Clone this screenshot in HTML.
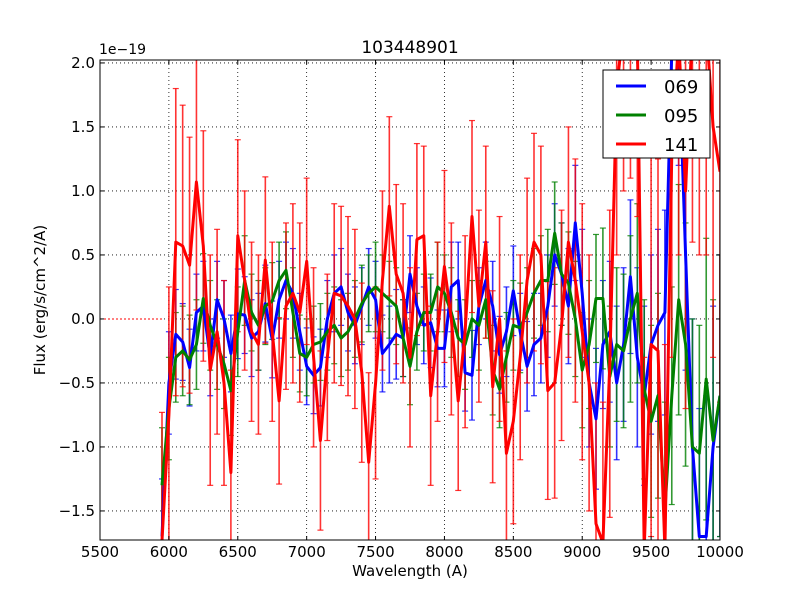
<!DOCTYPE html>
<html><head><meta charset="utf-8"><style>
html,body{margin:0;padding:0;background:#fff;overflow:hidden;width:800px;height:600px;}
svg{display:block;overflow:hidden;}
svg text{font-family:"DejaVu Sans","Liberation Sans",sans-serif;}
</style></head><body>
<svg id="chart" width="800" height="600" xmlns="http://www.w3.org/2000/svg">
<rect x="0" y="0" width="800" height="600" fill="#fff"/>
<defs><clipPath id="clip"><rect x="100" y="60" width="620" height="480"/></clipPath></defs>
<g id="grid"></g>
<g id="series" clip-path="url(#clip)"></g>
<rect x="100" y="60" width="620" height="480" fill="none" stroke="#000" stroke-width="1"/>
<g id="ticks"></g>
<text x="410" y="53" font-size="17" text-anchor="middle">103448901</text>
<text x="99" y="54" font-size="14">1e−19</text>
<text x="410" y="576" font-size="15" text-anchor="middle">Wavelength (A)</text>
<text x="45" y="300" font-size="15" text-anchor="middle" transform="rotate(-90 45 300)">Flux (erg/s/cm^2/A)</text>
<g>
<rect x="603" y="70" width="107" height="88" fill="#fff" stroke="#000"/>
<g><line x1="616" y1="86" x2="646" y2="86" stroke="#0000ff" stroke-width="3"/><text x="664" y="93" font-size="18">069</text></g>
<g><line x1="616" y1="115" x2="646" y2="115" stroke="#008000" stroke-width="3"/><text x="664" y="122" font-size="18">095</text></g>
<g><line x1="616" y1="144" x2="646" y2="144" stroke="#ff0000" stroke-width="3"/><text x="664" y="151" font-size="18">141</text></g>
</g>
</svg>
<script>
const wavelengths=[5950,6000,6050,6100,6150,6200,6250,6300,6350,6400,6450,6500,6550,6600,6650,6700,6750,6800,6850,6900,6950,7000,7050,7100,7150,7200,7250,7300,7350,7400,7450,7500,7550,7600,7650,7700,7750,7800,7850,7900,7950,8000,8050,8100,8150,8200,8250,8300,8350,8400,8450,8500,8550,8600,8650,8700,8750,8800,8850,8900,8950,9000,9050,9100,9150,9200,9250,9300,9350,9400,9450,9500,9550,9600,9650,9700,9750,9800,9850,9900,9950,10000];
const flux069=[-1.7,-0.5,-0.12,-0.18,-0.38,0.05,0.1,-0.3,0.15,0.0,-0.27,0.04,0.03,-0.15,-0.1,0.12,-0.16,0.15,0.3,0.2,-0.1,-0.37,-0.44,-0.38,0.0,0.2,0.25,0.05,-0.05,0.1,0.25,0.15,-0.27,-0.2,-0.12,-0.15,0.35,0.1,-0.05,-0.03,-0.23,-0.23,0.25,0.3,-0.42,-0.44,0.1,0.3,0.1,-0.28,-0.1,0.22,-0.1,-0.37,-0.2,-0.15,0.1,0.5,0.35,0.1,0.75,0.2,-0.5,-0.78,-0.2,-0.1,-0.5,-0.2,0.33,-0.3,-0.6,-0.2,-0.05,0.05,2.1,2.1,0.5,-1.0,-1.7,-1.7,-1.0,-0.6];
const err069=[0.45,0.4,0.35,0.3,0.3,0.3,0.35,0.3,0.3,0.3,0.3,0.35,0.3,0.3,0.3,0.3,0.3,0.3,0.3,0.35,0.3,0.3,0.3,0.3,0.3,0.3,0.3,0.3,0.3,0.3,0.3,0.3,0.3,0.3,0.35,0.3,0.3,0.3,0.3,0.35,0.3,0.3,0.35,0.3,0.3,0.35,0.3,0.3,0.35,0.3,0.35,0.35,0.3,0.35,0.4,0.35,0.4,0.4,0.4,0.45,0.45,0.5,0.5,0.55,0.5,0.55,0.6,0.6,0.6,0.7,0.7,0.7,0.75,0.8,0.8,0.9,0.9,1.0,1.0,1.1,1.1,1.1];
const flux095=[-1.3,-0.7,-0.3,-0.25,-0.32,-0.2,0.16,-0.05,-0.2,-0.35,-0.56,-0.1,0.3,0.05,-0.05,0.1,0.14,0.3,0.38,0.05,-0.27,-0.3,-0.2,-0.18,-0.1,-0.05,-0.15,-0.1,0.0,0.12,0.2,0.25,0.2,0.15,0.1,-0.15,-0.37,-0.1,0.05,0.05,0.25,0.2,0.05,-0.15,-0.2,0.0,-0.05,0.15,-0.4,-0.55,-0.3,-0.05,-0.07,0.05,0.2,0.3,0.3,0.67,0.35,0.28,0.0,-0.4,-0.2,0.16,0.16,-0.45,-0.2,-0.25,0.0,0.2,-0.55,-0.8,-0.6,-1.5,-0.6,0.15,-0.2,-1.0,-1.05,-0.47,-0.95,-0.6];
const err095=[0.45,0.4,0.35,0.35,0.35,0.35,0.35,0.35,0.35,0.35,0.35,0.35,0.35,0.3,0.35,0.3,0.3,0.3,0.3,0.35,0.3,0.3,0.3,0.3,0.3,0.3,0.3,0.3,0.3,0.3,0.3,0.35,0.3,0.3,0.3,0.3,0.3,0.3,0.3,0.3,0.35,0.3,0.35,0.3,0.35,0.3,0.35,0.3,0.35,0.3,0.35,0.35,0.35,0.35,0.35,0.35,0.4,0.4,0.4,0.4,0.45,0.45,0.5,0.5,0.55,0.55,0.6,0.6,0.65,0.7,0.7,0.75,0.8,0.85,0.85,0.9,0.95,1.0,1.0,1.1,1.1,1.1];
const flux141=[-1.73,-0.75,0.6,0.57,0.42,1.07,0.57,-0.4,-0.1,-0.5,-1.2,0.65,0.3,-0.1,-0.2,0.46,-0.1,-0.64,0.1,0.2,0.05,0.45,-0.3,-0.95,-0.3,0.2,0.18,0.1,0.0,-0.42,-1.12,-0.5,0.3,0.88,0.35,0.2,-0.3,0.62,0.65,-0.6,-0.1,0.41,0.0,-0.64,-0.1,0.8,0.1,0.6,-0.53,0.0,-1.05,-0.8,-0.3,0.3,0.6,0.5,-0.56,-0.5,-0.05,0.6,0.3,-0.1,-0.5,-1.6,-1.75,-0.35,1.8,2.3,2.5,2.2,-1.8,-0.2,-0.25,-1.8,1.3,2.2,1.0,2.3,2.3,2.3,1.5,1.15];
const err141=[1.0,1.0,1.2,1.1,1.0,1.0,0.9,0.9,0.8,0.8,0.8,0.75,0.7,0.7,0.7,0.65,0.7,0.65,0.65,0.7,0.7,0.65,0.7,0.7,0.65,0.7,0.7,0.7,0.7,0.7,0.7,0.75,0.7,0.7,0.7,0.7,0.7,0.75,0.7,0.7,0.7,0.75,0.75,0.7,0.75,0.75,0.75,0.75,0.75,0.8,0.8,0.8,0.8,0.8,0.85,0.85,0.85,0.9,0.9,0.9,0.95,1.0,1.0,1.1,1.1,1.2,1.3,1.3,1.4,1.4,1.5,1.5,1.5,1.6,1.6,1.7,1.7,1.7,1.8,1.8,1.8,1.8];
const xTicks=[5500,6000,6500,7000,7500,8000,8500,9000,9500,10000];
const yTicks=[-1.5,-1.0,-0.5,0.0,0.5,1.0,1.5,2.0];
const NS='http://www.w3.org/2000/svg';
const xMin=5500,xMax=10000,yMin=-1.727,yMax=2.023;
function xs(w){return 100+(w-xMin)/(xMax-xMin)*620;}
function ys(v){return 540-(v-yMin)/(yMax-yMin)*480;}
function yc(v){return ys(Math.max(-2.05,Math.min(2.4,v)));}
function mk(tag,attrs,parent){const e=document.createElementNS(NS,tag);for(const k in attrs)e.setAttribute(k,attrs[k]);parent.appendChild(e);return e;}
const grid=document.getElementById('grid'),ticks=document.getElementById('ticks'),series=document.getElementById('series');
xTicks.forEach(t=>{const x=xs(t);
 const g=mk('line',{x1:x,y1:60,x2:x,y2:540,stroke:'#000','stroke-dasharray':'1,3','stroke-width':0.8},grid);
 
 
 mk('line',{x1:x,y1:540,x2:x,y2:536,stroke:'#000'},ticks);
 mk('line',{x1:x,y1:60,x2:x,y2:64,stroke:'#000'},ticks);
 const tx=mk('text',{x:x,y:557,'font-size':15,'text-anchor':'middle'},ticks);tx.textContent=String(t);
 
 
});
yTicks.forEach(t=>{const y=ys(t);
 const g=mk('line',{x1:100,y1:y,x2:720,y2:y,stroke:'#000','stroke-dasharray':'1,3','stroke-width':0.8},grid);
 
 
 mk('line',{x1:100,y1:y,x2:104,y2:y,stroke:'#000'},ticks);
 mk('line',{x1:720,y1:y,x2:716,y2:y,stroke:'#000'},ticks);
 const tx=mk('text',{x:95,y:y+5,'font-size':15,'text-anchor':'end'},ticks);tx.textContent=t.toFixed(1).replace('-','−');
 
 
});
const zl=mk('line',{x1:100,y1:ys(0),x2:xs(wavelengths[0]),y2:ys(0),stroke:'#ff0000','stroke-dasharray':'2,2'},series);


const defs=[['069',flux069,err069,'#0000ff'],['095',flux095,err095,'#008000'],['141',flux141,err141,'#ff0000']];
defs.forEach(([name,f,e,c])=>{
 const g=mk('g',{},series);
 
 
 wavelengths.forEach((w,i)=>{const x=xs(w),y1=yc(f[i]-e[i]),y2=yc(f[i]+e[i]);
  mk('line',{x1:x,y1:y1,x2:x,y2:y2,stroke:c,'stroke-width':1.6,'stroke-opacity':0.8},g);
  mk('line',{x1:x-3,y1:y1,x2:x+3,y2:y1,stroke:c,'stroke-width':1.2,'stroke-opacity':0.8},g);
  mk('line',{x1:x-3,y1:y2,x2:x+3,y2:y2,stroke:c,'stroke-width':1.2,'stroke-opacity':0.8},g);
 });
});
defs.forEach(([name,f,e,c])=>{
 const pts=wavelengths.map((w,i)=>xs(w).toFixed(1)+','+yc(f[i]).toFixed(1)).join(' ');
 const p=mk('polyline',{points:pts,fill:'none',stroke:c,'stroke-width':3,'stroke-linejoin':'round'},series);
 
 
});
</script>
</body></html>
